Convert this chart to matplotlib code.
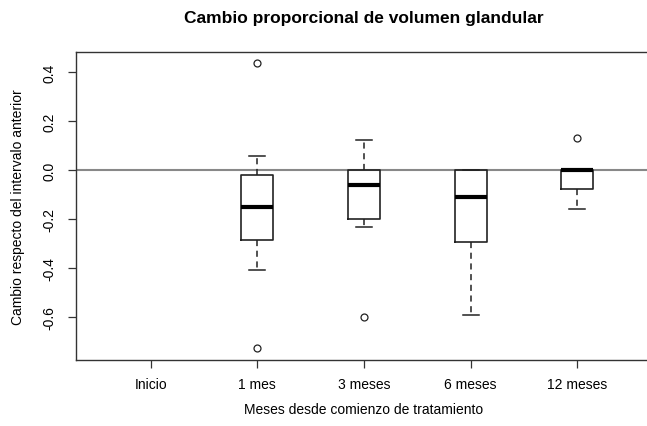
import numpy as np
import matplotlib
matplotlib.use("Agg")
import matplotlib.pyplot as plt

plt.rcParams['font.family'] = ['Liberation Sans', 'DejaVu Sans']

grupos = ['Inicio', '1 mes', '3 meses', '6 meses', '12 meses']
# estadisticos (None = sin datos)
q1 = [None, -0.284, -0.200, -0.294, -0.078]
mediana = [None, -0.150, -0.060, -0.109, 0.000]
q3 = [None, -0.020, 0.000, 0.000, 0.000]
bigote_inf = [None, -0.408, -0.231, -0.592, -0.160]
bigote_sup = [None, 0.057, 0.124, 0.000, 0.000]
atipicos = [[], [0.437, -0.728], [-0.599], [], [0.129]]

stats = []
posiciones = []
for i in range(len(grupos)):
    if q1[i] is None:
        continue
    stats.append({'q1': q1[i], 'med': mediana[i], 'q3': q3[i],
                  'whislo': bigote_inf[i], 'whishi': bigote_sup[i],
                  'fliers': atipicos[i]})
    posiciones.append(i + 1)

fig = plt.figure(figsize=(6.47, 4.27), dpi=100)
ax = fig.add_axes([76/647, (427-361)/427, (652-76)/647, (361-53)/427])

ax.bxp(stats, positions=posiciones, widths=0.3, showfliers=True,
       boxprops=dict(color='#222222', linewidth=1.2),
       medianprops=dict(color='black', linewidth=3, solid_capstyle='butt'),
       whiskerprops=dict(color='#222222', linewidth=1.1, linestyle=(0, (4, 3))),
       capprops=dict(color='#222222', linewidth=1.1),
       capwidths=0.15,
       flierprops=dict(marker='o', markerfacecolor='white', markeredgecolor='#222222',
                       markersize=5, markeredgewidth=0.9))

ax.axhline(0, color='#888888', linewidth=1.5, zorder=0.5)

ax.set_xlim(0.3, 5.7)
ax.set_ylim(-0.7755, 0.4816)
ax.set_xticks(range(1, len(grupos) + 1))
ax.set_xticklabels(grupos, fontsize=10)
ax.set_yticks([-0.6, -0.4, -0.2, 0.0, 0.2, 0.4])
ax.set_yticklabels(['-0.6', '-0.4', '-0.2', '0.0', '0.2', '0.4'], fontsize=10,
                   rotation=90, va='center')
ax.tick_params(axis='both', length=6, width=0.9, color='#333333')
ax.tick_params(axis='x', pad=6)
ax.tick_params(axis='y', pad=8)
for s in ax.spines.values():
    s.set_color('#333333')
    s.set_linewidth(1.0)

fig.text(364/647, 1 - 18/427, 'Cambio proporcional de volumen glandular',
         ha='center', va='center', fontsize=12.5, fontweight='bold')
fig.text(364/647, 1 - 410/427, 'Meses desde comienzo de tratamiento',
         ha='center', va='center', fontsize=10)
fig.text(18/647, 1 - 207/427, 'Cambio respecto del intervalo anterior',
         ha='center', va='center', fontsize=10, rotation=90)

fig.savefig('out.png', dpi=100)
